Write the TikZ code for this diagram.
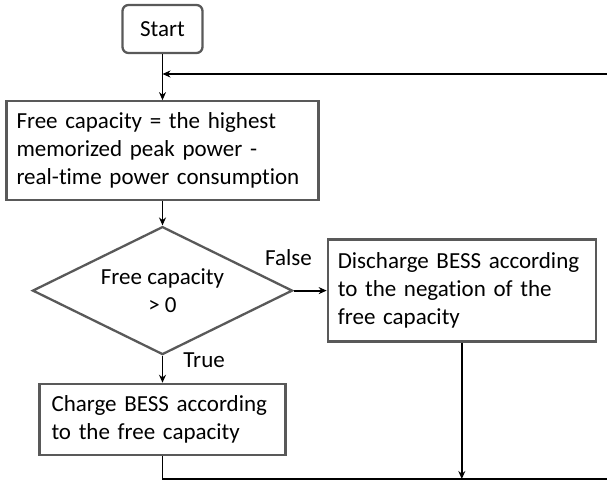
\documentclass[tikz,border=0pt]{standalone}
\usepackage{fontspec}
\setmainfont{Carlito}[Ligatures=NoCommon]
\usetikzlibrary{shapes.geometric, arrows.meta, positioning}
\definecolor{boxgray}{RGB}{89,89,89}

\begin{document}
\begin{tikzpicture}[x=1pt, y=-1pt, auto, >={Stealth[length=8pt,width=7pt]}, font=\fontsize{23}{28}\selectfont]
    \tikzstyle{startstop} = [draw=boxgray, line width=2.3pt, rectangle, rounded corners=6pt, minimum width=80pt, minimum height=48pt]
    \tikzstyle{process} = [draw=boxgray, line width=2.3pt, rectangle, align=left, inner xsep=10pt]
    \tikzstyle{decision} = [draw=boxgray, line width=2.3pt, diamond, aspect=2, minimum width=260pt, minimum height=128pt, align=center, inner sep=0pt]
    \tikzstyle{line} = [draw, line width=1.9pt]

    \useasboundingbox (0,0) rectangle (607,482);

    \node [startstop] (start) at (162.5,29) {Start};
    \node [process, below=46pt of start, text width=292pt, minimum height=99pt] (freecap) {Free capacity = the highest\\memorized peak power -\\real-time power consumption};
    \node [decision, below=24pt of freecap] (dec) {Free capacity\\> 0};
    \node [process, right=33pt of dec, text width=248pt, minimum height=102pt] (discharge) {Discharge BESS according\\to the negation of the\\free capacity};
    \node [process, below=27pt of dec, text width=222pt, inner xsep=12pt, minimum height=71pt] (charge) {Charge BESS according\\to the free capacity};

    % loop back to the top
    \coordinate (loopbot) at (615,479);
    \coordinate (looptop) at (615,74);

    \draw[->, line] (start) -- (freecap);
    \draw[->, line] (freecap) -- (dec);
    \draw[->, line] (dec) -- node[pos=0.64, anchor=south east, inner sep=2pt, yshift=22pt] (lblfalse) {False} (discharge);
    \draw[->, line] (dec) -- node[pos=0.55, anchor=south west, inner sep=2pt, xshift=18pt] (lbltrue) {True} (charge);
    \draw[->, line] (charge.south) |- (loopbot) -- (looptop) -- (looptop -| start.south);
    \draw[->, line] (discharge.south) -- (discharge.south |- loopbot);
\end{tikzpicture}
\end{document}
